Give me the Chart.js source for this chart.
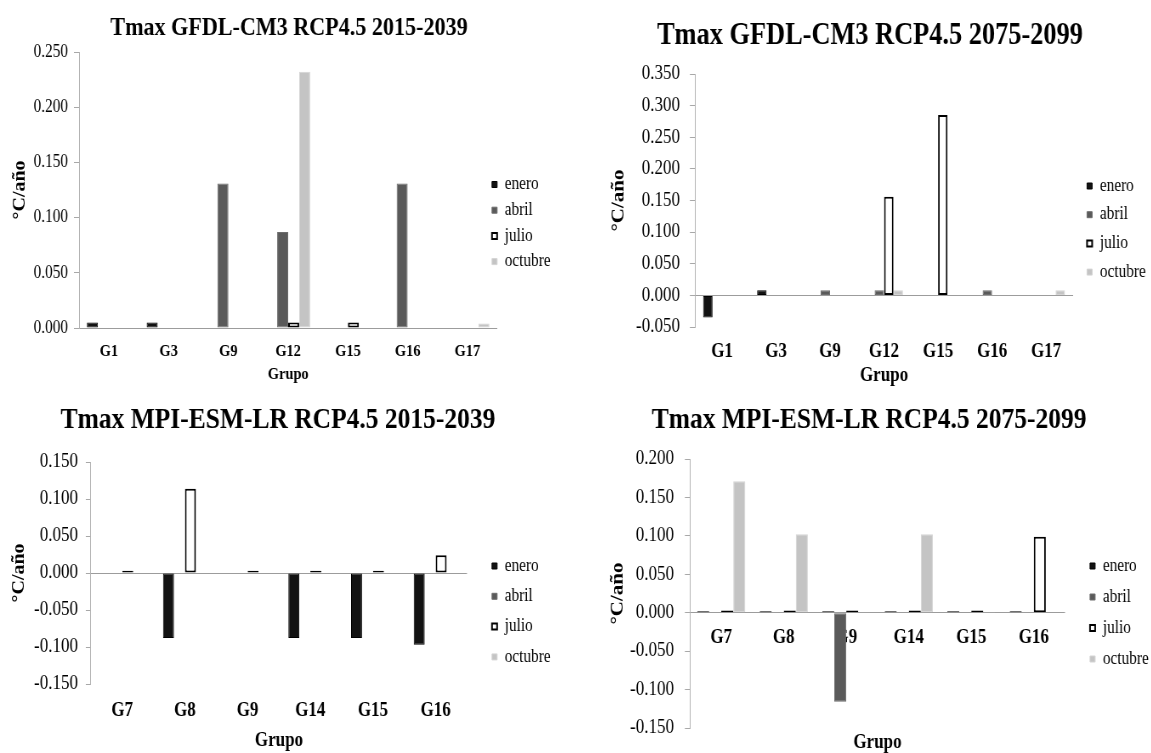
<!DOCTYPE html>
<html>
<head>
<meta charset="utf-8">
<script src="https://cdn.jsdelivr.net/npm/chart.js@4.4.1/dist/chart.umd.min.js"></script>
<style>
html,body{margin:0;padding:0;background:#fff;width:1151px;height:753px;overflow:hidden;}
.box{position:absolute;transform:scaleX(0.85);transform-origin:0 0;}
</style>
</head>
<body>
<div class="box" style="left:0px;top:0px;width:677px;height:390px"><canvas id="c1"></canvas></div>
<div class="box" style="left:575px;top:0px;width:677px;height:392px"><canvas id="c2"></canvas></div>
<div class="box" style="left:0px;top:380px;width:677px;height:375px"><canvas id="c3"></canvas></div>
<div class="box" style="left:575px;top:380px;width:677px;height:377px"><canvas id="c4"></canvas></div>
<script>
// ---------- DATA ----------
const seriesNames = ['enero', 'abril', 'julio', 'octubre'];
const yAxisTitle = '°C/año';
const xAxisTitle = 'Grupo';

// Chart 1: Tmax GFDL-CM3 RCP4.5 2015-2039
const title1 = 'Tmax GFDL-CM3 RCP4.5 2015-2039';
const groups1 = ['G1', 'G3', 'G9', 'G12', 'G15', 'G16', 'G17'];
const enero1 = [0.005, 0.005, 0, 0, 0, 0, 0];
const abril1 = [0, 0, 0.131, 0.087, 0, 0.131, 0];
const julio1 = [0, 0, 0, 0.005, 0.005, 0, 0];
const octubre1 = [0, 0, 0, 0.232, 0, 0, 0.004];
const yTicks1 = [0, 0.05, 0.1, 0.15, 0.2, 0.25];

// Chart 2: Tmax GFDL-CM3 RCP4.5 2075-2099
const title2 = 'Tmax GFDL-CM3 RCP4.5 2075-2099';
const groups2 = ['G1', 'G3', 'G9', 'G12', 'G15', 'G16', 'G17'];
const enero2 = [-0.035, 0.008, 0, 0, 0, 0, 0];
const abril2 = [0, 0, 0.008, 0.008, 0, 0.008, 0];
const julio2 = [0, 0, 0, 0.156, 0.285, 0, 0];
const octubre2 = [0, 0, 0, 0.008, 0, 0, 0.008];
const yTicks2 = [-0.05, 0, 0.05, 0.1, 0.15, 0.2, 0.25, 0.3, 0.35];

// Chart 3: Tmax MPI-ESM-LR RCP4.5 2015-2039
const title3 = 'Tmax MPI-ESM-LR RCP4.5 2015-2039';
const groups3 = ['G7', 'G8', 'G9', 'G14', 'G15', 'G16'];
const enero3 = [0, -0.088, 0, -0.088, -0.088, -0.097];
const abril3 = [0, 0, 0, 0, 0, 0];
const julio3 = [0.003, 0.114, 0.003, 0.003, 0.003, 0.024];
const octubre3 = [0, 0, 0, 0, 0, 0];
const yTicks3 = [-0.15, -0.1, -0.05, 0, 0.05, 0.1, 0.15];

// Chart 4: Tmax MPI-ESM-LR RCP4.5 2075-2099
const title4 = 'Tmax MPI-ESM-LR RCP4.5 2075-2099';
const groups4 = ['G7', 'G8', 'G9', 'G14', 'G15', 'G16'];
const enero4 = [0.002, 0.002, 0.002, 0.002, 0.002, 0.002];
const abril4 = [0, 0, -0.116, 0, 0.001, 0];
const julio4 = [0.003, 0.003, 0.003, 0.003, 0.003, 0.099];
const octubre4 = [0.171, 0.102, 0.001, 0.102, 0.001, 0];
const yTicks4 = [-0.15, -0.1, -0.05, 0, 0.05, 0.1, 0.15, 0.2];

// ---------- STYLE ----------
const FONT = "'Liberation Serif', 'Times New Roman', serif";
Chart.defaults.font.family = FONT;
Chart.defaults.color = '#000';

const seriesStyle = {
  enero:   {backgroundColor: '#121212', borderColor: '#000000', borderWidth: 1},
  abril:   {backgroundColor: '#5a5a5a', borderColor: '#6c6c6c', borderWidth: 1},
  julio:   {backgroundColor: '#ffffff', borderColor: '#000000', borderWidth: 2},
  octubre: {backgroundColor: '#c4c4c4', borderColor: '#d4d4d4', borderWidth: 1}
};

// moves the legend / title boxes after layout
const nudge = {
  id: 'nudge',
  afterLayout(chart, args, opts) {
    const lg = chart.legend;
    if (lg && opts.legendX != null) {
      const p = lg.options.labels.padding;
      const dx = opts.legendX - (lg.left + p);
      lg.left += dx; lg.right += dx;
      const dy = opts.legendY - (lg.top + p);
      lg.top += dy; lg.bottom += dy;
    }
    const tb = chart.titleBlock;
    if (tb && opts.titleX != null) {
      const dx = opts.titleX - (tb.left + tb.right) / 2;
      tb.left += dx; tb.right += dx;
    }
  }
};

function zeroLine(c) {
  return (c.tick && Math.abs(c.tick.value) < 1e-9) ? '#9c9c9c' : 'rgba(0,0,0,0)';
}

function makeChart(canvasId, d, L) {
  const datasets = seriesNames.map((name, i) => Object.assign({
    label: name,
    data: d.series[i],
    borderSkipped: false,
    barPercentage: 1,
    categoryPercentage: L.catPct
  }, seriesStyle[name]));

  const scales = {
    y: {
      min: d.yTicks[0],
      max: d.yTicks[d.yTicks.length - 1],
      afterBuildTicks: ax => { ax.ticks = d.yTicks.map(v => ({value: v})); },
      ticks: {
        font: {size: L.yTickSize},
        padding: L.yTickPad,
        callback: v => Number(v).toFixed(3)
      },
      grid: {color: zeroLine, lineWidth: 1, drawTicks: true, tickLength: 6, tickColor: '#a8a8a8'},
      border: {display: true, color: '#b3b3b3', width: 1},
      title: {display: true, text: yAxisTitle, font: {size: L.yTitleSize, weight: 'bold'}, padding: L.yTitlePad}
    }
  };
  if (L.splitX) {
    scales.x = {
      ticks: {display: false},
      grid: {display: false, drawTicks: false},
      border: {display: false},
      title: {display: true, text: xAxisTitle, font: {size: L.xTitleSize, weight: 'bold'}, padding: L.xTitlePad}
    };
    scales.x2 = {
      type: 'category',
      axis: 'x',
      labels: d.groups,
      offset: true,
      position: {y: 0},
      grid: {display: false, drawTicks: false, offset: true},
      border: {display: false},
      ticks: {font: {size: L.xTickSize, weight: 'bold'}, padding: L.xTickPad, autoSkip: false, maxRotation: 0}
    };
  } else {
    scales.x = {
      grid: {display: false, drawTicks: false},
      border: {display: false},
      ticks: {font: {size: L.xTickSize, weight: 'bold'}, padding: L.xTickPad, autoSkip: false, maxRotation: 0},
      title: {display: true, text: xAxisTitle, font: {size: L.xTitleSize, weight: 'bold'}, padding: L.xTitlePad}
    };
  }

  return new Chart(document.getElementById(canvasId), {
    type: 'bar',
    data: {labels: d.groups, datasets},
    options: {
      responsive: true,
      maintainAspectRatio: false,
      animation: false,
      layout: {padding: L.pad},
      scales,
      plugins: {
        title: {display: true, text: d.title, font: {size: L.titleSize, weight: 'bold'}, color: '#000', padding: L.titlePad},
        legend: {
          display: true,
          position: 'chartArea',
          align: 'start',
          labels: {font: {size: L.legendSize}, boxWidth: 6, boxHeight: 6, padding: L.legendPad, color: '#000'}
        },
        tooltip: {enabled: false},
        nudge: {legendX: L.legendX, legendY: L.legendY, titleX: L.titleX}
      }
    },
    plugins: [nudge]
  });
}

makeChart('c1',
  {title: title1, groups: groups1, series: [enero1, abril1, julio1, octubre1], yTicks: yTicks1},
  {pad: {left: 4, top: 4, right: 92, bottom: 4.8}, catPct: 0.737,
   titleSize: 26, titlePad: {top: 8.4, bottom: 8.4}, titleX: 340,
   yTickSize: 18, yTickPad: 7, yTitleSize: 20, yTitlePad: {top: 7.5, bottom: -3},
   xTickSize: 17, xTickPad: 13.8, xTitleSize: 17, xTitlePad: {top: -11.2, bottom: 0},
   legendSize: 18, legendPad: 7.7, legendX: 578.8, legendY: 175.5});

makeChart('c2',
  {title: title2, groups: groups2, series: [enero2, abril2, julio2, octubre2], yTicks: yTicks2},
  {pad: {left: 4, top: 4, right: 91, bottom: 4}, catPct: 0.70,
   titleSize: 31, titlePad: {top: 13.4, bottom: 19.4}, titleX: 347,
   yTickSize: 20, yTickPad: 11.7, yTitleSize: 21, yTitlePad: {top: 35.2, bottom: -4.3},
   xTickSize: 20, xTickPad: 13, xTitleSize: 20, xTitlePad: {top: -13, bottom: 0},
   legendSize: 18, legendPad: 10.7, legendX: 602.4, legendY: 177});

makeChart('c3',
  {title: title3, groups: groups3, series: [enero3, abril3, julio3, octubre3], yTicks: yTicks3},
  {pad: {left: 4, top: 4, right: 127.6, bottom: 2}, catPct: 0.70,
   titleSize: 30, titlePad: {top: 18, bottom: 24}, titleX: 327,
   yTickSize: 20, yTickPad: 9.2, yTitleSize: 20, yTitlePad: {top: 6.9, bottom: -4},
   xTickSize: 20, xTickPad: 15, xTitleSize: 20, xTitlePad: {top: -9, bottom: 0},
   legendSize: 18, legendPad: 12.3, legendX: 578.8, legendY: 177});

makeChart('c4',
  {title: title4, groups: groups4, series: [enero4, abril4, julio4, octubre4], yTicks: yTicks4},
  {pad: {left: 4, top: 4, right: 100.5, bottom: 2}, catPct: 0.77, splitX: true,
   titleSize: 30, titlePad: {top: 18, bottom: 21}, titleX: 346,
   yTickSize: 20, yTickPad: 12.8, yTitleSize: 21, yTitlePad: {top: 34, bottom: -11.2},
   xTickSize: 20, xTickPad: 13, xTitleSize: 20, xTitlePad: {top: 3, bottom: 0},
   legendSize: 18, legendPad: 13, legendX: 605.9, legendY: 177});
</script>
</body>
</html>
